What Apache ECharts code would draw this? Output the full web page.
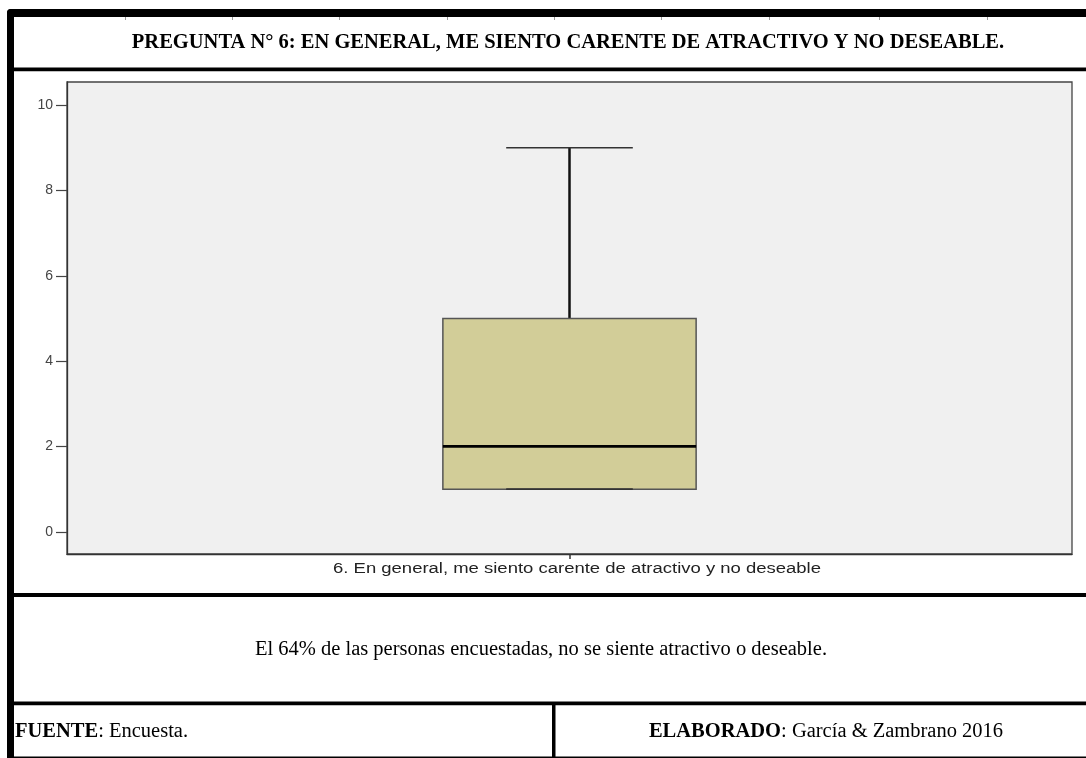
<!DOCTYPE html>
<html>
<head>
<meta charset="utf-8">
<script src="https://cdn.jsdelivr.net/npm/echarts@6/dist/echarts.min.js"></script>
<style>
  html, body { margin: 0; padding: 0; background: #ffffff; }
  #chart { width: 1086px; height: 758px; }
</style>
</head>
<body>
<div id="chart"></div>
<script>
// ---- Data ----
const categories = ['6. En general, me siento carente de atractivo y no deseable'];
// [min, Q1, median, Q3, max]
const boxStats = [[1, 1, 2, 5, 9]];
const yTicks = [0, 2, 4, 6, 8, 10];
const titleText = 'PREGUNTA N° 6: EN GENERAL, ME SIENTO CARENTE DE ATRACTIVO Y NO DESEABLE.';
const noteText = 'El 64% de las personas encuestadas, no se siente atractivo o deseable.';
const sourceLabel = 'FUENTE';
const sourceText = ': Encuesta.';
const authorLabel = 'ELABORADO';
const authorText = ': García & Zambrano 2016';

const chart = echarts.init(document.getElementById('chart'), null, { renderer: 'canvas' });

const serif = '"Liberation Serif", "Times New Roman", serif';
const sans = '"Liberation Sans", Arial, sans-serif';

function renderBox(params, api) {
  const cat = api.value(0);
  const lo = api.value(1), q1 = api.value(2), med = api.value(3), q3 = api.value(4), hi = api.value(5);
  const band = api.size([1, 0])[0];
  const bw = band * 0.252;
  const cw = bw * 0.5;
  const pHi = api.coord([cat, hi]);
  const pQ3 = api.coord([cat, q3]);
  const pMed = api.coord([cat, med]);
  const pQ1 = api.coord([cat, q1]);
  const pLo = api.coord([cat, lo]);
  const cx = pMed[0];
  return {
    type: 'group',
    children: [
      { type: 'line', shape: { x1: cx, y1: pQ3[1], x2: cx, y2: pHi[1] }, style: { stroke: '#111', lineWidth: 2.5 } },
      { type: 'line', shape: { x1: cx - cw / 2, y1: pHi[1], x2: cx + cw / 2, y2: pHi[1] }, style: { stroke: '#333', lineWidth: 1.6 } },
      { type: 'line', shape: { x1: cx, y1: pQ1[1], x2: cx, y2: pLo[1] }, style: { stroke: '#111', lineWidth: 2.5 } },
      { type: 'rect', shape: { x: cx - bw / 2, y: pQ3[1], width: bw, height: pQ1[1] - pQ3[1] }, style: { fill: '#d2cd98', stroke: '#555', lineWidth: 1.5 } },
      { type: 'line', shape: { x1: cx - cw / 2, y1: pLo[1], x2: cx + cw / 2, y2: pLo[1] }, style: { stroke: '#333', lineWidth: 1.8 } },
      { type: 'line', shape: { x1: cx - bw / 2, y1: pMed[1], x2: cx + bw / 2, y2: pMed[1] }, style: { stroke: '#000', lineWidth: 2.8 } }
    ]
  };
}

const topTicksX = [125, 232, 339, 447, 554, 661, 769, 879, 987];
const serifFont = '20.5px ' + serif;
const serifBold = 'bold 20.5px ' + serif;
const graphics = [
  // frame
  { type: 'rect', shape: { x: 7, y: 9, width: 1079, height: 8, r: [4, 0, 0, 0] }, style: { fill: '#000' }, z: 100 },
  { type: 'rect', shape: { x: 7, y: 9, width: 7, height: 749, r: [4, 0, 0, 0] }, style: { fill: '#000' }, z: 100 },
  { type: 'rect', shape: { x: 7, y: 67.5, width: 1079, height: 3.8 }, style: { fill: '#000' }, z: 100 },
  { type: 'rect', shape: { x: 7, y: 593, width: 1079, height: 4 }, style: { fill: '#000' }, z: 100 },
  { type: 'rect', shape: { x: 7, y: 701.5, width: 1079, height: 3.8 }, style: { fill: '#000' }, z: 100 },
  { type: 'rect', shape: { x: 7, y: 756.5, width: 1079, height: 1.5 }, style: { fill: '#000' }, z: 100 },
  { type: 'rect', shape: { x: 552, y: 703, width: 3.5, height: 55 }, style: { fill: '#000' }, z: 100 },
  // title
  { type: 'text', x: 568, y: 43, style: { text: titleText, font: serifBold, fill: '#000', align: 'center', verticalAlign: 'middle' }, z: 100 },
  // x category label (stretched like the source)
  { type: 'text', x: 577, y: 569, scaleX: 1.32, originX: 0, originY: 0, style: { text: categories[0], font: '14px ' + sans, fill: '#222', align: 'center', verticalAlign: 'middle' }, z: 100 },
  // note
  { type: 'text', x: 541, y: 650, style: { text: noteText, font: serifFont, fill: '#000', align: 'center', verticalAlign: 'middle' }, z: 100 },
  // footer left
  { type: 'text', x: 15, y: 732, style: { text: '{b|' + sourceLabel + '}{n|' + sourceText + '}', rich: { b: { font: serifBold, fill: '#000' }, n: { font: serifFont, fill: '#000' } }, verticalAlign: 'middle' }, z: 100 },
  // footer right
  { type: 'text', x: 826, y: 732, style: { text: '{b|' + authorLabel + '}{n|' + authorText + '}', rich: { b: { font: serifBold, fill: '#000' }, n: { font: serifFont, fill: '#000' } }, align: 'center', verticalAlign: 'middle' }, z: 100 }
];
topTicksX.forEach(function (x) {
  graphics.push({ type: 'rect', shape: { x: x, y: 17, width: 1, height: 3 }, style: { fill: '#999' }, z: 100 });
});

const option = {
  backgroundColor: '#ffffff',
  animation: false,
  grid: {
    left: 67, right: 14, top: 82, bottom: 204,
    show: true, backgroundColor: '#f0f0f0', borderColor: '#444', borderWidth: 1.3
  },
  xAxis: {
    type: 'category',
    data: categories,
    axisLine: { show: true, onZero: false, lineStyle: { color: '#333', width: 1.3 } },
    axisTick: { show: true, alignWithLabel: true, length: 5, lineStyle: { color: '#333', width: 1.5 } },
    axisLabel: { show: false },
    splitLine: { show: false }
  },
  yAxis: {
    type: 'value',
    min: -0.52,
    max: 10.54,
    axisLine: { show: true, lineStyle: { color: '#333', width: 1.3 } },
    axisTick: { show: true, length: 11, customValues: yTicks, lineStyle: { color: '#444', width: 1.2 } },
    axisLabel: { color: '#444', fontSize: 14, fontFamily: sans, margin: 14, customValues: yTicks },
    splitLine: { show: false }
  },
  series: [{
    type: 'custom',
    renderItem: renderBox,
    encode: { x: 0, y: [1, 2, 3, 4, 5] },
    data: boxStats.map(function (s, i) { return [i].concat(s); }),
    z: 10
  }],
  graphic: graphics
};

chart.setOption(option);
</script>
</body>
</html>
